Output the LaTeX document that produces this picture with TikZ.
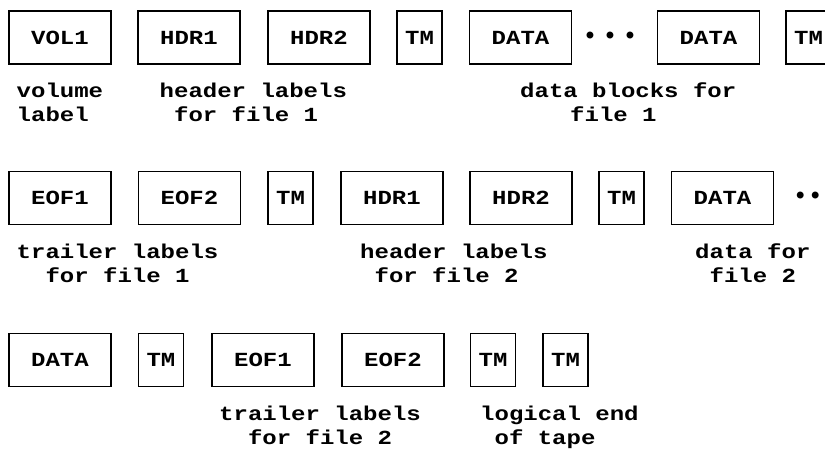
\documentclass[tikz,border=0pt]{standalone}
\usepackage{fontspec}
\setmainfont{Liberation Mono}
\newfontfamily\cour{Liberation Mono}[FakeStretch=1.2]
\tikzset{
  blk/.style={draw, line width=1.5pt, inner sep=0pt, minimum height=53pt,
    minimum width=102pt, font=\cour\fontsize{20}{20}\selectfont\bfseries},
  tmk/.style={blk, minimum width=45pt},
  lbl/.style={anchor=base west, inner sep=0pt, font=\cour\fontsize{20}{20}\selectfont\bfseries},
  dotsx/.style={inner sep=0pt, font=\fontsize{24}{24}\selectfont\bfseries}
}
\begin{document}
\begin{tikzpicture}[x=1pt,y=-1pt]
\useasboundingbox (0,0) rectangle (825,449);
% ---- row 1
\node[blk] (r1vol)  at (60,37.5)    {VOL1};
\node[blk] (r1hdr1) at (189,37.5)   {HDR1};
\node[blk] (r1hdr2) at (319,37.5)   {HDR2};
\node[tmk] (r1tm1)  at (419.5,37.5) {TM};
\node[blk] (r1dat1) at (520.5,37.5) {DATA};
\node[dotsx] (r1dots) at (610,37.5) {•\hspace{5.6pt}•\hspace{5.6pt}•};
\node[blk] (r1dat2) at (708.5,37.5) {DATA};
\node[tmk] (r1tm2)  at (808.5,37.5) {TM};
\node[lbl] (r1la) at (16.5,98)  {volume};
\node[lbl] (r1lb) at (16.5,122) {label};
\node[lbl] (r1lc) at (159.5,98) {header labels};
\node[lbl] (r1ld) at (173.9,122) {for file 1};
\node[lbl] (r1le) at (520,98)   {data blocks for};
\node[lbl] (r1lf) at (570,122)  {file 1};
% ---- row 2
\node[blk] (r2eof1) at (60,198)    {EOF1};
\node[blk] (r2eof2) at (189.5,198) {EOF2};
\node[tmk] (r2tm1)  at (290.5,198) {TM};
\node[blk] (r2hdr1) at (392,198)   {HDR1};
\node[blk] (r2hdr2) at (521,198)   {HDR2};
\node[tmk] (r2tm2)  at (621.5,198) {TM};
\node[blk] (r2dat)  at (722.5,198) {DATA};
\node[dotsx, anchor=west] (r2dots) at (793,198) {•\hspace{0.6pt}•\hspace{0.6pt}•};
\node[lbl] (r2la) at (16.5,259) {trailer labels};
\node[lbl] (r2lb) at (45.3,283) {for file 1};
\node[lbl] (r2lc) at (360,259)  {header labels};
\node[lbl] (r2ld) at (374.4,283) {for file 2};
\node[lbl] (r2le) at (695,259)  {data for};
\node[lbl] (r2lf) at (709.4,283) {file 2};
% ---- row 3
\node[blk] (r3dat)  at (60,360)    {DATA};
\node[tmk] (r3tm1)  at (161,360)   {TM};
\node[blk] (r3eof1) at (263,360)   {EOF1};
\node[blk] (r3eof2) at (393,360)   {EOF2};
\node[tmk] (r3tm2)  at (493,360)   {TM};
\node[tmk] (r3tm3)  at (565.5,360) {TM};
\node[lbl] (r3la) at (219,420)   {trailer labels};
\node[lbl] (r3lb) at (247.8,444) {for file 2};
\node[lbl] (r3lc) at (480,420)   {logical end};
\node[lbl] (r3ld) at (494.4,444) {of tape};
\end{tikzpicture}
\end{document}
